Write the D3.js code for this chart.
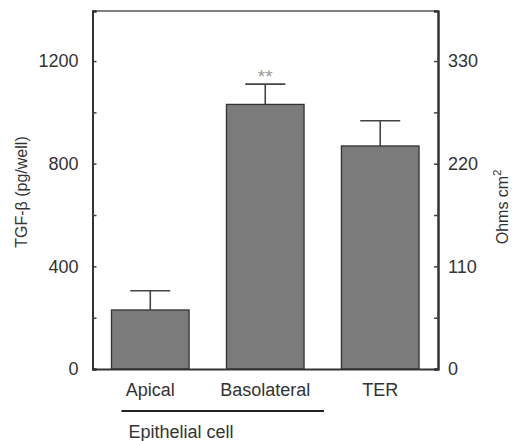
<!DOCTYPE html>
<html lang="en">
  <head>
    <meta charset="UTF-8" />
    <title>TGF-beta and TER</title>
    <script src="https://d3js.org/d3.v7.min.js"></script>
    <style>
      body { margin: 0; background: #fff; }
      text { font-family: "Liberation Sans", Arial, sans-serif; fill: #333; }
    </style>
  </head>
  <body>
    <div id="chart"></div>
    <script>
      // values
      const categories = ['Apical', 'Basolateral', 'TER'];
      const tgfMeans = [230, 1031];          // pg/well, left axis
      const tgfErrors = [75, 79];
      const terMean = 239;                   // Ohms cm2, right axis
      const terError = 27;
      const leftTicks = [0, 400, 800, 1200];
      const leftMinor = [200, 600, 1000];
      const rightTicks = [0, 110, 220, 330];
      const rightMinor = [55, 165, 275];

      const W = 512, H = 441;
      const margin = { top: 11, right: 74, bottom: 72, left: 92.5 };
      const width = W - margin.left - margin.right;
      const height = H - margin.top - margin.bottom;

      const svg = d3.select('#chart')
        .append('svg')
          .attr('width', W)
          .attr('height', H);

      const g = svg.append('g')
        .attr('transform', `translate(${margin.left},${margin.top})`);

      const x = d3.scaleBand()
        .domain(categories)
        .range([0, width])
        .paddingInner(0.325)
        .paddingOuter(0.165);

      const yLeft = d3.scaleLinear().domain([0, 1395]).range([height, 0]);
      const yRight = d3.scaleLinear().domain([0, 1395 * 0.275]).range([height, 0]);

      // rows for the bars, each with its own scale
      const rows = [
        { cat: categories[0], v: tgfMeans[0], e: tgfErrors[0], y: yLeft },
        { cat: categories[1], v: tgfMeans[1], e: tgfErrors[1], y: yLeft },
        { cat: categories[2], v: terMean, e: terError, y: yRight }
      ];

      // top frame line
      g.append('line')
        .attr('x1', 0).attr('x2', width)
        .attr('y1', 0).attr('y2', 0)
        .attr('stroke', '#808080')
        .attr('stroke-width', 2);

      // error bars (drawn first so bars cover the stem base)
      const err = g.selectAll('.err')
        .data(rows)
        .enter()
        .append('g')
          .attr('class', 'err')
          .attr('stroke', '#444')
          .attr('stroke-width', 1.6);

      err.append('line')
        .attr('x1', d => x(d.cat) + x.bandwidth() / 2)
        .attr('x2', d => x(d.cat) + x.bandwidth() / 2)
        .attr('y1', d => d.y(d.v))
        .attr('y2', d => d.y(d.v + d.e));

      err.append('line')
        .attr('x1', d => x(d.cat) + x.bandwidth() / 2 - 20)
        .attr('x2', d => x(d.cat) + x.bandwidth() / 2 + 20)
        .attr('y1', d => d.y(d.v + d.e))
        .attr('y2', d => d.y(d.v + d.e));

      g.selectAll('.bar')
        .data(rows)
        .enter()
        .append('rect')
          .attr('class', 'bar')
          .attr('x', d => x(d.cat))
          .attr('y', d => d.y(d.v))
          .attr('width', x.bandwidth())
          .attr('height', d => height - d.y(d.v))
          .attr('fill', '#7b7b7b')
          .attr('stroke', '#333')
          .attr('stroke-width', 1.3);

      // significance mark
      g.append('text')
        .attr('x', x(categories[1]) + x.bandwidth() / 2)
        .attr('y', yLeft(tgfMeans[1] + tgfErrors[1]) - 1)
        .attr('text-anchor', 'middle')
        .style('fill', '#999')
        .style('font-size', '19px')
        .text('**');

      // left axis
      g.append('g')
        .call(d3.axisLeft(yLeft).tickValues(leftTicks).tickSize(-4).tickPadding(14).tickFormat(d3.format('d')));
      g.append('g')
        .call(d3.axisLeft(yLeft).tickValues(leftMinor).tickSize(-4).tickFormat(''));

      // right axis
      g.append('g')
        .attr('transform', `translate(${width},0)`)
        .call(d3.axisRight(yRight).tickValues(rightTicks).tickSize(-4).tickPadding(10).tickFormat(d3.format('d')));
      g.append('g')
        .attr('transform', `translate(${width},0)`)
        .call(d3.axisRight(yRight).tickValues(rightMinor).tickSize(-4).tickFormat(''));

      // bottom axis
      g.append('g')
        .attr('transform', `translate(0,${height})`)
        .call(d3.axisBottom(x).tickSize(0).tickPadding(14));

      g.selectAll('.domain').attr('stroke', '#333').attr('stroke-width', 2);
      g.selectAll('.tick line').attr('stroke', '#444').attr('stroke-width', 1.5);
      g.selectAll('.tick text')
        .style('font-size', '18px')
        .style('font-family', '"Liberation Sans", Arial, sans-serif')
        .attr('fill', '#333');

      // group line + label under the epithelial categories
      g.append('line')
        .attr('x1', x(categories[0]) + 10)
        .attr('x2', x(categories[1]) + x.bandwidth() + 20)
        .attr('y1', height + 42)
        .attr('y2', height + 42)
        .attr('stroke', '#222')
        .attr('stroke-width', 2.2);

      g.append('text')
        .attr('x', x(categories[0]) + 17)
        .attr('y', height + 69)
        .style('font-size', '18px')
        .text('Epithelial cell');

      // axis titles
      svg.append('text')
        .attr('transform', `translate(27,${margin.top + 181}) rotate(-90)`)
        .attr('text-anchor', 'middle')
        .style('font-size', '16px')
        .text('TGF-β (pg/well)');

      const rt = svg.append('text')
        .attr('transform', `translate(508,${margin.top + 196}) rotate(-90)`)
        .attr('text-anchor', 'middle')
        .style('font-size', '16px');
      rt.append('tspan').text('Ohms cm');
      rt.append('tspan').attr('dy', -7).style('font-size', '11px').text('2');
    </script>
  </body>
</html>
